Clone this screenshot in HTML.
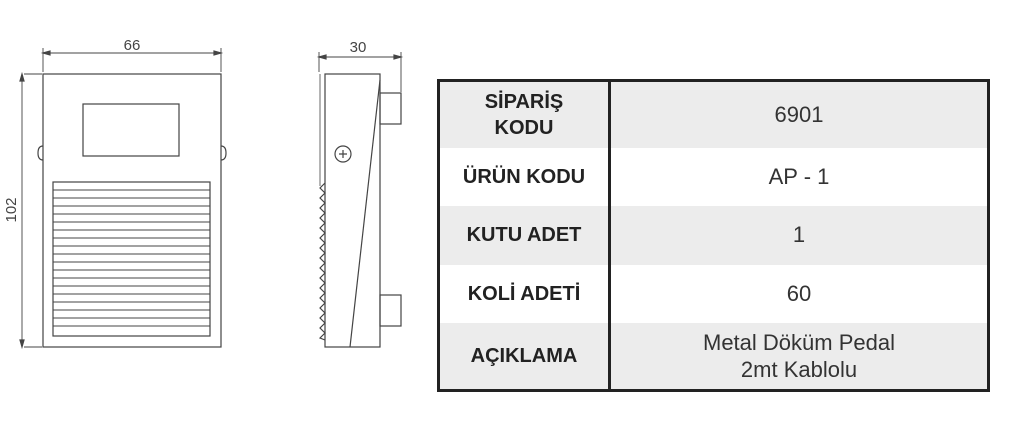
<!DOCTYPE html>
<html><head><meta charset="utf-8"><style>
body{margin:0;width:1024px;height:432px;background:#fff;overflow:hidden;position:relative;font-family:"Liberation Sans",sans-serif}
table{position:absolute;left:437px;top:79px;width:553px;height:310px;border-collapse:collapse;border:3px solid #222}
td{text-align:center;padding:0;font-size:22px;color:#333}
td.h{width:168px;border-right:3px solid #222;font-weight:bold;font-size:20px;color:#222;line-height:26px}
tr.g td{background:#ececec}
</style></head><body>
<svg width="420" height="432" style="position:absolute;left:0;top:0" fill="none" stroke="#444" stroke-width="1.2">
<rect x="43" y="74" width="178" height="273"/>
<rect x="83" y="104" width="96" height="52"/>
<path d="M43 146 q-5 0 -5 7 q0 7 5 7 M221 146 q5 0 5 7 q0 7 -5 7"/>
<rect x="53" y="182" width="157" height="154"/>
<g stroke-width="1">
<path d="M53 190H210M53 198H210M53 206H210M53 214H210M53 222H210M53 230H210M53 238H210M53 246H210M53 254H210M53 262H210M53 270H210M53 278H210M53 286H210M53 294H210M53 302H210M53 310H210M53 318H210M53 326H210"/>
</g>
<path d="M43 72V48M221 72V48M43 53H221M24 74H42M24 347H42M22 74V347" stroke-width="0.9"/>
<path d="M43 53l7 -2v4zM221 53l-7 -2v4zM22 74l-2 7h4zM22 347l-2 -7h4z" fill="#444"/>
<text x="132" y="50" font-size="15" fill="#444" stroke="none" text-anchor="middle" font-family="Liberation Sans">66</text>
<text x="16" y="210" font-size="15" fill="#444" stroke="none" text-anchor="middle" transform="rotate(-90 16 210)" font-family="Liberation Sans">102</text>
<rect x="325" y="74" width="55" height="273"/>
<path d="M380 80L350 347"/>
<rect x="380" y="93" width="21" height="31"/>
<rect x="380" y="295" width="21" height="31"/>
<circle cx="343" cy="154" r="8"/>
<path d="M339 154h8M343 150v8"/>
<path d="M325 183 l-5 5 5 5 -5 5 5 5 -5 5 5 5 -5 5 5 5 -5 5 5 5 -5 5 5 5 -5 5 5 5 -5 5 5 5 -5 5 5 5 -5 5 5 5 -5 5 5 5 -5 5 5 5 -5 5 5 5 -5 5 5 5 -5 5 5 5 -5 5 5 2"/>
<path d="M320 74V186" stroke-width="0.8"/>
<path d="M319 72V52M401 92V52M319 57H401" stroke-width="0.9"/>
<path d="M319 57l7 -2v4zM401 57l-7 -2v4z" fill="#444"/>
<text x="358" y="52" font-size="15" fill="#444" stroke="none" text-anchor="middle" font-family="Liberation Sans">30</text>
</svg>
<table>
<tr class="g" style="height:67px"><td class="h">SİPARİŞ<br>KODU</td><td>6901</td></tr>
<tr style="height:58px"><td class="h">ÜRÜN KODU</td><td>AP - 1</td></tr>
<tr class="g" style="height:59px"><td class="h">KUTU ADET</td><td>1</td></tr>
<tr style="height:58px"><td class="h">KOLİ ADETİ</td><td>60</td></tr>
<tr class="g" style="height:68px"><td class="h">AÇIKLAMA</td><td style="line-height:27px">Metal Döküm Pedal<br>2mt Kablolu</td></tr>
</table>
</body></html>
